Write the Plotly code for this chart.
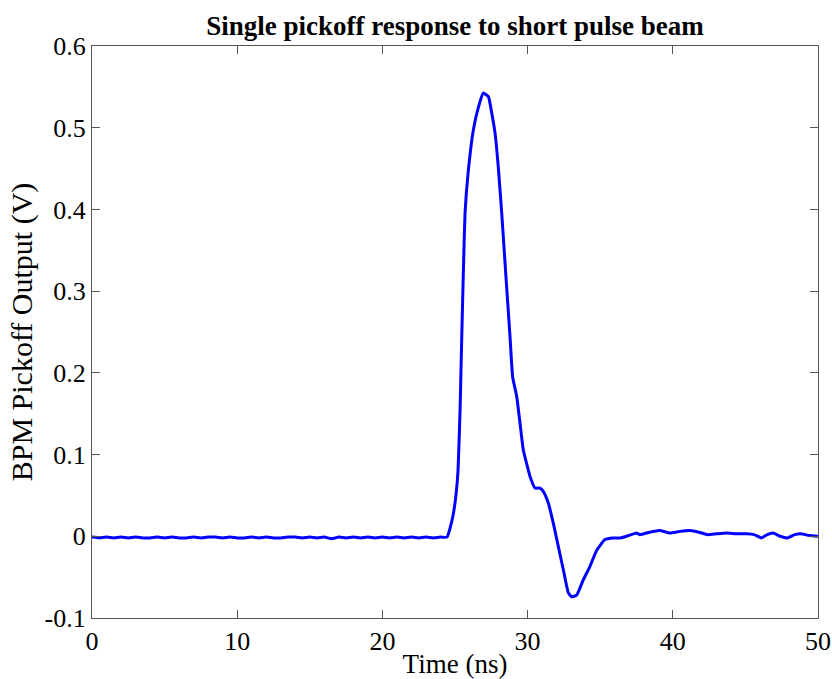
import plotly.graph_objects as go

# baseline before the pulse (0 - 24 ns, 0.5 ns steps)
base_t = [0.0, 0.5, 1.0, 1.5, 2.0, 2.5, 3.0, 3.5, 4.0, 4.5,
          5.0, 5.5, 6.0, 6.5, 7.0, 7.5, 8.0, 8.5, 9.0, 9.5,
          10.0, 10.5, 11.0, 11.5, 12.0, 12.5, 13.0, 13.5, 14.0, 14.5,
          15.0, 15.5, 16.0, 16.5, 17.0, 17.5, 18.0, 18.5, 19.0, 19.5,
          20.0, 20.5, 21.0, 21.5, 22.0, 22.5, 23.0, 23.5, 24.0]
base_v = [-0.001, -0.002, -0.001, -0.002, -0.001, -0.002, -0.001, -0.002, -0.002, -0.001,
          -0.002, -0.001, -0.002, -0.002, -0.001, -0.002, -0.001, -0.001, -0.002, -0.001,
          -0.002, -0.002, -0.001, -0.002, -0.001, -0.002, -0.002, -0.001, -0.001, -0.002,
          -0.001, -0.002, -0.001, -0.003, -0.001, -0.002, -0.001, -0.002, -0.001, -0.002,
          -0.001, -0.002, -0.001, -0.002, -0.001, -0.002, -0.001, -0.002, -0.001]

# pulse and tail (24.4 - 50 ns)
pulse_t = [24.45, 24.66, 24.87, 25.07, 25.21, 25.35, 25.46, 25.57, 25.69, 25.92,
           26.26, 26.61, 26.95, 27.3, 27.53, 27.76, 27.98, 28.22, 28.5, 28.79,
           28.97, 29.25, 29.5, 29.7, 30.05, 30.17, 30.51, 30.85, 31.08, 31.42,
           31.77, 32.11, 32.46, 32.8, 33.03, 33.38, 33.84, 34.29, 34.76, 35.33,
           35.9, 36.4, 36.82, 37.5, 37.74, 38.4, 39.11, 39.8, 40.49, 41.2,
           41.8, 42.4, 43.0, 43.7, 44.4, 45.1, 45.6, 46.1, 46.5, 46.9,
           47.4, 47.9, 48.4, 48.8, 49.4, 50.0]
pulse_v = [-0.001, 0.010, 0.026, 0.051, 0.081, 0.155, 0.240, 0.320, 0.395, 0.448,
           0.497, 0.525, 0.5425, 0.538, 0.518, 0.493, 0.452, 0.395, 0.320, 0.244,
           0.195, 0.171, 0.135, 0.106, 0.081, 0.073, 0.059, 0.059, 0.055, 0.041,
           0.016, -0.012, -0.041, -0.069, -0.074, -0.072, -0.053, -0.037, -0.017, -0.004,
           -0.002, -0.002, 0.000, 0.004, 0.002, 0.005, 0.007, 0.004, 0.006, 0.007,
           0.005, 0.002, 0.003, 0.004, 0.003, 0.003, 0.002, -0.002, 0.002, 0.004,
           0.000, -0.002, 0.002, 0.003, 0.001, 0.000]

x_ticks = [0, 10, 20, 30, 40, 50]
y_ticks = [-0.1, 0, 0.1, 0.2, 0.3, 0.4, 0.5, 0.6]
y_labels = ['-0.1', '0', '0.1', '0.2', '0.3', '0.4', '0.5', '0.6']

fig = go.Figure()
fig.add_trace(go.Scatter(
    x=base_t + pulse_t,
    y=base_v + pulse_v,
    mode='lines',
    line=dict(color='#0000ff', width=3, shape='spline', smoothing=0.4),
    showlegend=False
))

axis_style = dict(
    showgrid=False, zeroline=False, automargin=False,
    showline=True, linecolor='#555555', linewidth=1.3, mirror='ticks',
    ticks='inside', ticklen=8, tickcolor='#555555', tickwidth=1.3,
    tickfont=dict(family='Liberation Serif', size=26, color='black'),
)

fig.update_xaxes(
    range=[0, 50], tickvals=x_ticks,
    title=dict(text='Time (ns)', font=dict(family='Liberation Serif', size=27, color='black'), standoff=4),
    **axis_style
)
fig.update_yaxes(
    range=[-0.1, 0.6], tickvals=y_ticks, ticktext=y_labels,
    title=dict(text='BPM Pickoff Output (V)', font=dict(family='Liberation Serif', size=30, color='black'), standoff=2),
    **axis_style
)

fig.update_layout(
    width=832, height=679,
    margin=dict(l=92, r=14, t=46, b=61),
    paper_bgcolor='white', plot_bgcolor='white',
    title=dict(text='<b>Single pickoff response to short pulse beam</b>', xref='paper', x=0.5, xanchor='center',
               y=0.963, yanchor='middle',
               font=dict(family='Liberation Serif', size=27, color='black')),
)

# drop the default 8px body margin so the figure fills the window exactly
fig.write_html("out.html", config={'displayModeBar': False},
               post_script="document.body.style.margin='0';")
